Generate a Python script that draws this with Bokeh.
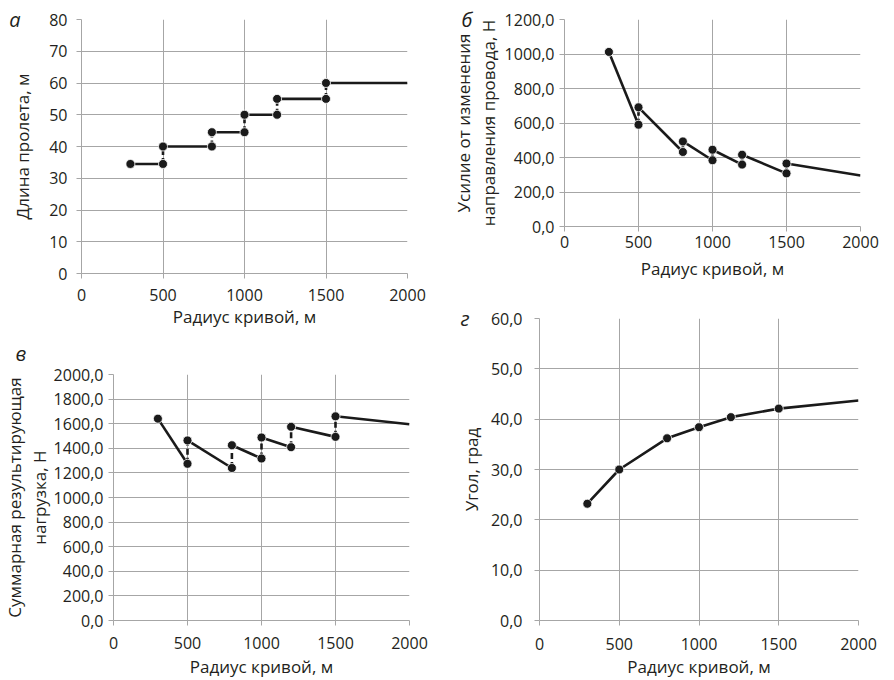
from bokeh.plotting import figure
from bokeh.layouts import row, column
from bokeh.models import FixedTicker, CustomJSTickFormatter, LinearAxis, Range1d, Title
from bokeh.embed import file_html
from bokeh.resources import INLINE

# ---------------- data ----------------
x_ticks = [0, 500, 1000, 1500, 2000]
x_label = "Радиус кривой, м"

a_seg_x = [[300, 500], [500, 800], [800, 1000], [1000, 1200], [1200, 1500], [1500, 2000]]
a_seg_y = [[34.5, 34.5], [40, 40], [44.5, 44.5], [50, 50], [55, 55], [60, 60]]
a_pts_x = [300, 500, 500, 800, 800, 1000, 1000, 1200, 1200, 1500, 1500]
a_pts_y = [34.5, 34.5, 40, 40, 44.5, 44.5, 50, 50, 55, 55, 60]
a_yticks = [0, 10, 20, 30, 40, 50, 60, 70, 80]

b_seg_x = [[300, 500], [500, 800], [800, 1000], [1000, 1200], [1200, 1500], [1500, 2000]]
b_seg_y = [[1012, 590], [691, 432], [493, 384], [445, 359], [416, 308], [365, 296]]
b_pts_x = [300, 500, 500, 800, 800, 1000, 1000, 1200, 1200, 1500, 1500]
b_pts_y = [1012, 590, 691, 432, 493, 384, 445, 359, 416, 308, 365]
b_yticks = [0, 200, 400, 600, 800, 1000, 1200]

c_seg_x = [[300, 500], [500, 800], [800, 1000], [1000, 1200], [1200, 1500], [1500, 2000]]
c_seg_y = [[1641, 1274], [1464, 1240], [1425, 1317], [1488, 1409], [1575, 1493], [1660, 1596]]
c_pts_x = [300, 500, 500, 800, 800, 1000, 1000, 1200, 1200, 1500, 1500]
c_pts_y = [1641, 1274, 1464, 1240, 1425, 1317, 1488, 1409, 1575, 1493, 1660]
c_yticks = [0, 200, 400, 600, 800, 1000, 1200, 1400, 1600, 1800, 2000]

d_x = [300, 500, 800, 1000, 1200, 1500, 2000]
d_y = [23.2, 30.0, 36.2, 38.4, 40.4, 42.1, 43.7]
d_pts_x = [300, 500, 800, 1000, 1200, 1500]
d_pts_y = [23.2, 30.0, 36.2, 38.4, 40.4, 42.1]
d_yticks = [0, 10, 20, 30, 40, 50, 60]

FONT = "Open Sans"
TXT = "#231f20"
GRID = "#a6a6a6"
LINE = "#1a1a1a"


def make_fig(w, h, ymax, yticks, ylabel, decimals, borders, ystand, xstand):
    l, r, t, b = borders
    p = figure(width=w, height=h, output_backend="svg", toolbar_location=None,
               x_range=Range1d(0, 2000), y_range=Range1d(0, ymax),
               min_border_left=l, min_border_right=r, min_border_top=t, min_border_bottom=b)
    p.outline_line_color = None
    p.background_fill_color = "white"
    p.border_fill_color = "white"
    p.xaxis.ticker = FixedTicker(ticks=x_ticks)
    p.yaxis.ticker = FixedTicker(ticks=yticks)
    if decimals:
        p.yaxis.formatter = CustomJSTickFormatter(code="return tick.toFixed(1).replace('.', ',');")
    else:
        p.yaxis.formatter = CustomJSTickFormatter(code="return tick.toFixed(0);")
    p.xaxis.formatter = CustomJSTickFormatter(code="return tick.toFixed(0);")
    p.xaxis.axis_label = x_label
    p.yaxis.axis_label = ylabel
    for ax in (p.xaxis, p.yaxis):
        ax.axis_line_color = GRID
        ax.major_tick_line_color = GRID
        ax.minor_tick_line_color = None
        ax.major_tick_in = 0
        ax.major_tick_out = 5
        ax.major_label_text_font = FONT
        ax.major_label_text_font_size = "16px"
        ax.major_label_text_color = TXT
        ax.axis_label_text_font = FONT
        ax.axis_label_text_font_size = "17px"
        ax.axis_label_text_font_style = "normal"
        ax.axis_label_text_color = TXT
        ax.axis_label_text_line_height = 1.05
    p.yaxis.major_label_standoff = ystand[0]
    p.yaxis.axis_label_standoff = ystand[1]
    p.xaxis.major_label_standoff = xstand[0]
    p.xaxis.axis_label_standoff = xstand[1]
    p.xgrid.grid_line_color = GRID
    p.ygrid.grid_line_color = GRID
    p.xgrid.grid_line_width = 1
    p.ygrid.grid_line_width = 1
    return p


def add_steps(p, seg_x, seg_y, pts_x, pts_y):
    p.multi_line(seg_x, seg_y, line_color=LINE, line_width=2.6)
    cx = [[seg_x[i][1], seg_x[i + 1][0]] for i in range(len(seg_x) - 1)]
    cy = [[seg_y[i][1], seg_y[i + 1][0]] for i in range(len(seg_y) - 1)]
    p.multi_line(cx, cy, line_color=LINE, line_width=2.6, line_dash="6 3")
    p.scatter(pts_x, pts_y, size=9, fill_color=LINE, line_color="white", line_width=0.8)


def letter_axis(p, letter, at, standoff):
    """Panel letter drawn as the only tick label of an extra, invisible left axis."""
    ax = LinearAxis(ticker=FixedTicker(ticks=[at]), major_label_overrides={at: letter},
                    axis_line_color=None, major_tick_line_color=None, minor_tick_line_color=None,
                    major_tick_in=0, major_tick_out=0, major_label_standoff=standoff,
                    major_label_text_font=FONT, major_label_text_font_style="italic",
                    major_label_text_font_size="20px", major_label_text_color=TXT)
    p.add_layout(ax, "left")


# panel а
pa = make_fig(448, 330, 80, a_yticks, "Длина пролета, м", False, (81, 41, 19, 54), (9, 12), (10, 1))
add_steps(pa, a_seg_x, a_seg_y, a_pts_x, a_pts_y)
letter_axis(pa, "а", a_yticks[-1], -12)

# panel б
pb = make_fig(446, 300, 1200, b_yticks, "Усилие от изменения\nнаправления провода, Н", True,
              (116, 34, 19, 74), (5, 2), (4, 6))
add_steps(pb, b_seg_x, b_seg_y, b_pts_x, b_pts_y)
letter_axis(pb, "б", b_yticks[-1], -23)

# panel в
pc = make_fig(448, 350, 2000, c_yticks, "Суммарная результирующая\nнагрузка, Н", True,
              (109, 39, 42, 56), (5, 0), (11, 3))
add_steps(pc, c_seg_x, c_seg_y, c_pts_x, c_pts_y)
pc.title = Title(text="в", align="left", offset=-98, standoff=15, text_font=FONT,
                 text_font_style="italic", text_font_size="20px", text_color=TXT)

# panel г
pd_ = make_fig(446, 380, 60, d_yticks, "Угол, град", True, (91, 36, 18, 57), (12, 5), (12, 2))
pd_.line(d_x, d_y, line_color=LINE, line_width=2.6)
pd_.scatter(d_pts_x, d_pts_y, size=9, fill_color=LINE, line_color="white", line_width=0.8)
letter_axis(pd_, "г", d_yticks[-1], -13)

layout = row(column(row(pa), row(pc)), column(row(pb), row(pd_)))

open("out.html", "w").write(file_html(layout, INLINE))
